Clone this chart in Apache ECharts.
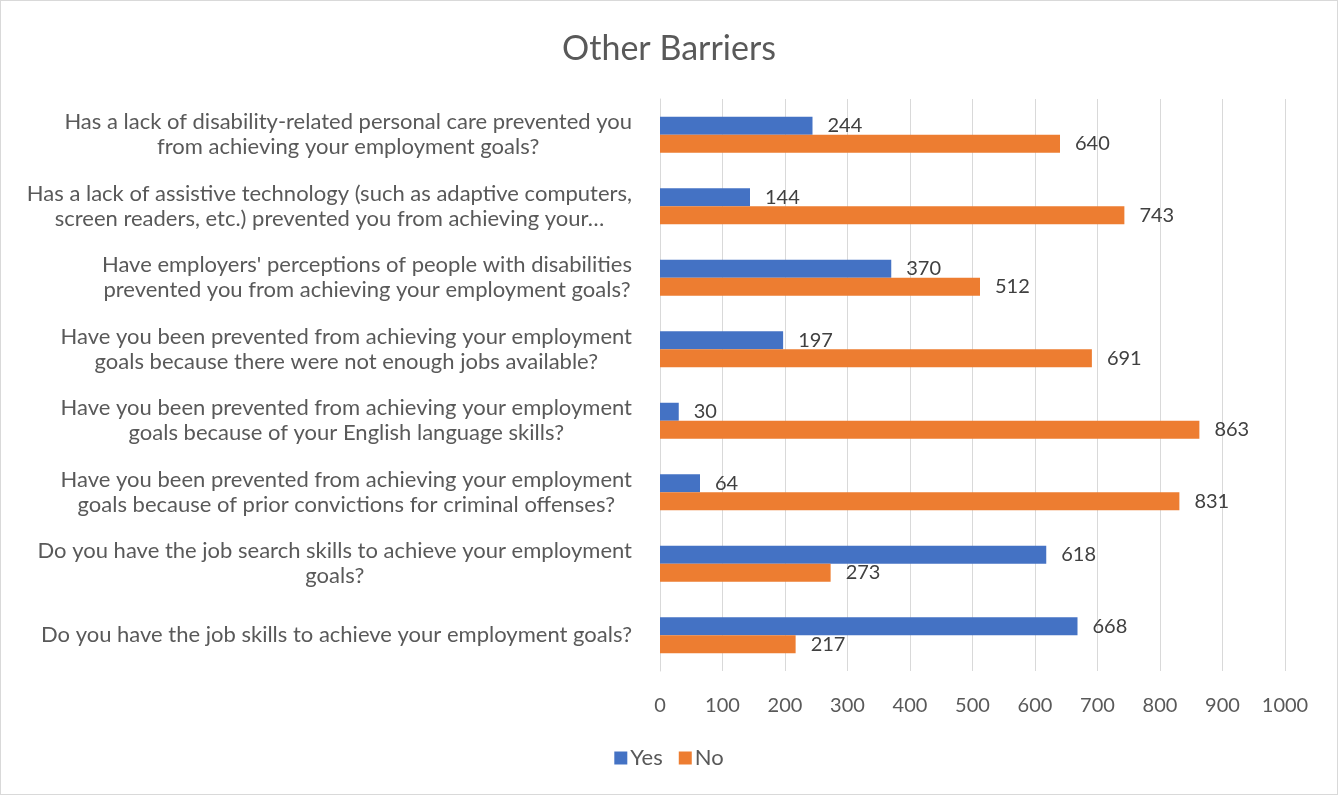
<!DOCTYPE html>
<html>
<head>
<meta charset="utf-8">
<script src="https://cdn.jsdelivr.net/npm/echarts@6/dist/echarts.min.js"></script>
<style>
  html, body { margin: 0; padding: 0; background: #fff; }
  #chart { width: 1338px; height: 795px; box-sizing: border-box; border: 1px solid #d9d9d9; }
</style>
</head>
<body>
<div id="chart"></div>
<script>
// Survey questions, listed top to bottom
const questions = [
  ["Has a lack of disability-related personal care prevented you", "from achieving your employment goals?"],
  ["Has a lack of assistive technology (such as adaptive computers,", "screen readers, etc.) prevented you from achieving your\u2026"],
  ["Have employers' perceptions of people with disabilities", "prevented you from achieving your employment goals?"],
  ["Have you been prevented from achieving your employment", "goals because there were not enough jobs available?"],
  ["Have you been prevented from achieving your employment", "goals because of your English language skills?"],
  ["Have you been prevented from achieving your employment", "goals because of prior convictions for criminal offenses?"],
  ["Do you have the job search skills to achieve your employment", "goals?"],
  ["Do you have the job skills to achieve your employment goals?"]
];
const yesCounts = [244, 144, 370, 197, 30, 64, 618, 668];
const noCounts = [640, 743, 512, 691, 863, 831, 273, 217];
const xTicks = [0, 100, 200, 300, 400, 500, 600, 700, 800, 900, 1000];

const FONT = 'Lato';
const TEXT = '#595959';

const categories = questions.map(q => q.join('\n'));

const chart = echarts.init(document.getElementById('chart'), null, { renderer: 'canvas' });

const valueLabel = {
  show: true,
  position: 'right',
  distance: 15,
  color: '#404040',
  fontFamily: FONT,
  fontSize: 20
};

chart.setOption({
  animation: false,
  backgroundColor: '#ffffff',
  title: {
    text: 'Other Barriers',
    left: 'center',
    top: 26,
    textStyle: { fontFamily: FONT, fontSize: 34, fontWeight: 'normal', color: TEXT }
  },
  legend: {
    bottom: 20,
    left: 'center',
    icon: 'rect',
    itemWidth: 13,
    itemHeight: 13,
    itemGap: 16,
    textStyle: { fontFamily: FONT, fontSize: 22, color: TEXT, padding: [0, 0, 0, -2] },
    data: ['Yes', 'No']
  },
  grid: { left: 659, right: 52, top: 98, bottom: 123, containLabel: false },
  xAxis: {
    type: 'value',
    min: xTicks[0],
    max: xTicks[xTicks.length - 1],
    interval: 100,
    axisLine: { show: false },
    axisTick: { show: false },
    splitLine: { show: true, lineStyle: { color: '#d9d9d9', width: 1 } },
    axisLabel: {
      fontFamily: FONT, fontSize: 20, color: TEXT, margin: 25,
      formatter: v => String(v)
    }
  },
  yAxis: {
    type: 'category',
    inverse: true,
    data: categories,
    axisLine: { show: true, lineStyle: { color: '#d9d9d9' } },
    axisTick: { show: false },
    axisLabel: {
      margin: 28,
      align: 'right',
      formatter: function (v) {
        return v.split('\n').map(l => '{c|' + l + '}').join('\n');
      },
      rich: {
        c: { fontFamily: FONT, fontSize: 22, color: TEXT, align: 'center', lineHeight: 25 }
      }
    }
  },
  series: [
    {
      name: 'Yes',
      type: 'bar',
      data: yesCounts,
      barWidth: 18,
      barGap: '0%',
      barCategoryGap: '50%',
      itemStyle: { color: '#4472c4' },
      label: valueLabel
    },
    {
      name: 'No',
      type: 'bar',
      data: noCounts,
      barWidth: 18,
      barGap: '0%',
      barCategoryGap: '50%',
      itemStyle: { color: '#ed7d31' },
      label: valueLabel
    }
  ]
});
</script>
</body>
</html>
